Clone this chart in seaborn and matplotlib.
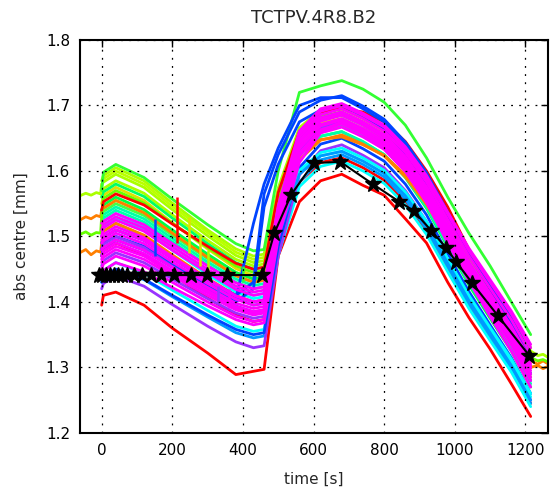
import numpy as np
import pandas as pd
import matplotlib
matplotlib.use("Agg")
import matplotlib.pyplot as plt
import seaborn as sns

# ---------------- data ----------------
K = [0, 5, 40, 120, 200, 300, 380, 430, 460, 500, 560, 620, 680, 740,
     800, 860, 920, 980, 1040, 1100, 1160, 1215]
pre_t = [-62, -45, -30, -15, -3]
tail_t = [1235, 1250, 1265]

red_bottom = [1.395, 1.41, 1.415, 1.395, 1.360, 1.322, 1.289, 1.294, 1.297, 1.47, 1.553, 1.585,
              1.595, 1.578, 1.563, 1.527, 1.490, 1.430, 1.376, 1.328, 1.275, 1.225]
red_mid = [1.47, 1.478, 1.49, 1.472, 1.442, 1.406, 1.380, 1.370, 1.373, 1.483, 1.583, 1.613,
           1.620, 1.605, 1.586, 1.553, 1.508, 1.451, 1.395, 1.346, 1.298, 1.245]
red_high = [1.54, 1.553, 1.565, 1.548, 1.519, 1.485, 1.459, 1.450, 1.453, 1.567, 1.66, 1.69,
            1.695, 1.69, 1.675, 1.645, 1.60, 1.545, 1.48, 1.42, 1.36, 1.30]
orange_a = [1.475, 1.48, 1.472, 1.478, 1.476,
            1.49, 1.508, 1.52, 1.502, 1.472, 1.436, 1.410, 1.400, 1.403, 1.515, 1.617, 1.647,
            1.655, 1.641, 1.623, 1.591, 1.549, 1.495, 1.442, 1.396, 1.350, 1.300,
            1.303, 1.298, 1.302]
orange_b = [1.525, 1.53, 1.527, 1.532, 1.53,
            1.54, 1.543, 1.555, 1.536, 1.505, 1.468, 1.440, 1.430, 1.433, 1.534, 1.626, 1.648,
            1.652, 1.640, 1.624, 1.594, 1.553, 1.503, 1.45, 1.405, 1.359, 1.31,
            1.305, 1.31, 1.305]
lime_a = [1.562, 1.566, 1.563, 1.567, 1.565,
          1.58, 1.583, 1.595, 1.575, 1.541, 1.501, 1.471, 1.46, 1.463, 1.568, 1.664, 1.693,
          1.70, 1.685, 1.666, 1.633, 1.588, 1.531, 1.475, 1.426, 1.378, 1.325,
          1.318, 1.32, 1.315]
green_long = [1.503, 1.507, 1.502, 1.506, 1.505,
              1.53, 1.558, 1.57, 1.551, 1.52, 1.483, 1.455, 1.445, 1.448, 1.555, 1.653, 1.683,
              1.69, 1.675, 1.656, 1.623, 1.578, 1.521, 1.465, 1.416, 1.368, 1.315,
              1.31, 1.312, 1.308]
yellow = [1.55, 1.563, 1.575, 1.555, 1.521, 1.481, 1.451, 1.44, 1.443, 1.548, 1.644, 1.673,
          1.68, 1.665, 1.646, 1.612, 1.566, 1.509, 1.452, 1.403, 1.353, 1.30]
yellow_b = [1.54, 1.543, 1.555, 1.537, 1.507, 1.471, 1.445, 1.435, 1.438, 1.541, 1.635, 1.663,
            1.67, 1.655, 1.635, 1.601, 1.555, 1.497, 1.439, 1.389, 1.339, 1.285]
lime_b = [1.56, 1.573, 1.585, 1.566, 1.533, 1.494, 1.465, 1.455, 1.458, 1.561, 1.655, 1.683,
          1.69, 1.675, 1.656, 1.622, 1.576, 1.519, 1.462, 1.413, 1.363, 1.31]
lime_c = [1.575, 1.588, 1.60, 1.58, 1.546, 1.506, 1.476, 1.465, 1.468, 1.569, 1.661, 1.688,
          1.695, 1.68, 1.661, 1.628, 1.583, 1.526, 1.47, 1.421, 1.373, 1.32]
lime_d = [1.585, 1.593, 1.605, 1.585, 1.551, 1.51, 1.481, 1.47, 1.473, 1.574, 1.666, 1.693,
          1.70, 1.685, 1.667, 1.633, 1.589, 1.534, 1.478, 1.43, 1.382, 1.33]
green_b = [1.54, 1.548, 1.56, 1.541, 1.51, 1.473, 1.445, 1.435, 1.438, 1.536, 1.626, 1.653,
           1.66, 1.644, 1.625, 1.590, 1.543, 1.484, 1.426, 1.375, 1.325, 1.27]
green_c = [1.56, 1.568, 1.58, 1.561, 1.528, 1.489, 1.46, 1.45, 1.453, 1.556, 1.65, 1.678,
           1.685, 1.67, 1.65, 1.616, 1.57, 1.512, 1.454, 1.404, 1.354, 1.30]
green_d = [1.53, 1.538, 1.55, 1.532, 1.502, 1.466, 1.44, 1.43, 1.433, 1.54, 1.638, 1.668,
           1.675, 1.66, 1.64, 1.606, 1.56, 1.502, 1.444, 1.394, 1.344, 1.29]
spring = [1.52, 1.533, 1.545, 1.527, 1.497, 1.461, 1.435, 1.425, 1.428, 1.535, 1.633, 1.663,
          1.67, 1.654, 1.635, 1.60, 1.553, 1.494, 1.436, 1.385, 1.335, 1.28]
spring_b = [1.515, 1.528, 1.54, 1.522, 1.492, 1.456, 1.43, 1.42, 1.423, 1.528, 1.624, 1.653,
            1.66, 1.645, 1.625, 1.591, 1.545, 1.487, 1.429, 1.379, 1.329, 1.275]
cyan_a = [1.51, 1.523, 1.535, 1.516, 1.485, 1.448, 1.42, 1.41, 1.413, 1.511, 1.601, 1.628,
          1.635, 1.62, 1.601, 1.568, 1.523, 1.466, 1.41, 1.361, 1.313, 1.26]
cyan_b = [1.44, 1.448, 1.46, 1.444, 1.418, 1.387, 1.363, 1.355, 1.358, 1.472, 1.576, 1.607,
          1.615, 1.60, 1.581, 1.548, 1.503, 1.446, 1.39, 1.341, 1.293, 1.24]
cyan_c = [1.505, 1.516, 1.528, 1.51, 1.479, 1.442, 1.415, 1.405, 1.408, 1.506, 1.596, 1.623,
          1.63, 1.615, 1.596, 1.563, 1.518, 1.461, 1.405, 1.356, 1.308, 1.255]
azure_a = [1.50, 1.508, 1.52, 1.501, 1.47, 1.433, 1.405, 1.395, 1.398, 1.501, 1.595, 1.623,
           1.63, 1.615, 1.596, 1.562, 1.516, 1.459, 1.402, 1.353, 1.303, 1.25]
azure_b = [1.43, 1.438, 1.45, 1.434, 1.408, 1.377, 1.353, 1.345, 1.348, 1.471, 1.583, 1.617,
           1.625, 1.61, 1.591, 1.557, 1.511, 1.454, 1.397, 1.348, 1.298, 1.245]
blue_a = [1.49, 1.498, 1.51, 1.494, 1.466, 1.433, 1.41, 1.43, 1.565, 1.625, 1.69, 1.708,
          1.715, 1.699, 1.679, 1.644, 1.597, 1.537, 1.478, 1.427, 1.375, 1.32]
blue_b = [1.47, 1.483, 1.495, 1.479, 1.453, 1.422, 1.40, 1.42, 1.545, 1.61, 1.675, 1.693,
          1.70, 1.684, 1.663, 1.626, 1.577, 1.516, 1.454, 1.401, 1.347, 1.29]
blue_c = [1.43, 1.438, 1.45, 1.435, 1.41, 1.38, 1.358, 1.35, 1.353, 1.485, 1.605, 1.641,
          1.65, 1.634, 1.615, 1.58, 1.533, 1.474, 1.416, 1.365, 1.315, 1.26]
blue_d = [1.48, 1.49, 1.50, 1.485, 1.458, 1.426, 1.405, 1.52, 1.58, 1.635, 1.70, 1.712,
          1.712, 1.695, 1.675, 1.64, 1.592, 1.532, 1.472, 1.42, 1.368, 1.31]
purple_a = [1.42, 1.428, 1.44, 1.424, 1.396, 1.363, 1.339, 1.33, 1.333, 1.47, 1.594, 1.631,
            1.64, 1.624, 1.605, 1.57, 1.523, 1.464, 1.406, 1.355, 1.305, 1.25]
purple_b = [1.48, 1.488, 1.50, 1.483, 1.454, 1.42, 1.394, 1.385, 1.388, 1.525, 1.644, 1.681,
            1.69, 1.674, 1.653, 1.616, 1.567, 1.506, 1.444, 1.391, 1.337, 1.28]
purple_c = [1.455, 1.463, 1.475, 1.46, 1.435, 1.405, 1.383, 1.375, 1.378, 1.51, 1.63, 1.666,
            1.675, 1.66, 1.64, 1.606, 1.56, 1.502, 1.444, 1.394, 1.344, 1.29]
top_green = [1.57, 1.598, 1.61, 1.59, 1.557, 1.518, 1.489, 1.478, 1.48, 1.60, 1.72, 1.73,
             1.738, 1.725, 1.705, 1.67, 1.62, 1.56, 1.505, 1.455, 1.40, 1.35]
mag_1 = [1.51, 1.518, 1.53, 1.513, 1.484, 1.45, 1.424, 1.415, 1.418, 1.543, 1.657, 1.691,
         1.70, 1.685, 1.667, 1.633, 1.589, 1.534, 1.478, 1.43, 1.382, 1.33]
mag_2 = [1.50, 1.513, 1.525, 1.508, 1.479, 1.445, 1.419, 1.41, 1.413, 1.538, 1.652, 1.686,
         1.695, 1.68, 1.661, 1.628, 1.583, 1.526, 1.47, 1.421, 1.373, 1.32]
mag_3 = [1.50, 1.503, 1.515, 1.498, 1.469, 1.435, 1.409, 1.40, 1.403, 1.531, 1.647, 1.681,
         1.69, 1.675, 1.656, 1.622, 1.576, 1.519, 1.462, 1.413, 1.363, 1.31]
mag_4 = [1.49, 1.493, 1.505, 1.489, 1.461, 1.428, 1.404, 1.395, 1.398, 1.526, 1.642, 1.676,
         1.685, 1.67, 1.65, 1.616, 1.57, 1.512, 1.454, 1.404, 1.354, 1.30]
mag_5 = [1.48, 1.483, 1.495, 1.479, 1.453, 1.422, 1.398, 1.39, 1.393, 1.521, 1.637, 1.671,
         1.68, 1.665, 1.646, 1.612, 1.566, 1.509, 1.452, 1.403, 1.353, 1.30]
mag_6 = [1.47, 1.478, 1.49, 1.474, 1.448, 1.417, 1.393, 1.385, 1.388, 1.513, 1.627, 1.661,
         1.675, 1.66, 1.64, 1.605, 1.558, 1.50, 1.442, 1.393, 1.343, 1.29]
mag_7 = [1.46, 1.468, 1.48, 1.465, 1.44, 1.41, 1.388, 1.38, 1.383, 1.508, 1.622, 1.66,
         1.672, 1.657, 1.637, 1.60, 1.552, 1.492, 1.434, 1.384, 1.334, 1.28]
mag_8 = [1.45, 1.458, 1.47, 1.455, 1.43, 1.40, 1.378, 1.37, 1.373, 1.505, 1.627, 1.663,
         1.672, 1.657, 1.637, 1.603, 1.557, 1.499, 1.441, 1.391, 1.341, 1.285]
mag_9 = [1.44, 1.448, 1.46, 1.446, 1.422, 1.394, 1.373, 1.365, 1.368, 1.497, 1.613, 1.658,
         1.667, 1.652, 1.633, 1.599, 1.553, 1.49, 1.432, 1.378, 1.325, 1.27]
mag_10 = [1.495, 1.498, 1.51, 1.494, 1.466, 1.433, 1.409, 1.40, 1.403, 1.53, 1.645, 1.679,
          1.688, 1.673, 1.654, 1.619, 1.573, 1.516, 1.458, 1.408, 1.359, 1.305]
mag_11 = [1.465, 1.473, 1.485, 1.47, 1.444, 1.414, 1.391, 1.383, 1.386, 1.516, 1.634, 1.669,
          1.678, 1.663, 1.644, 1.609, 1.563, 1.505, 1.448, 1.398, 1.348, 1.295]
mag_12 = [1.52, 1.523, 1.535, 1.518, 1.489, 1.455, 1.429, 1.42, 1.423, 1.547, 1.661, 1.695,
          1.703, 1.688, 1.67, 1.637, 1.593, 1.537, 1.482, 1.434, 1.386, 1.335]

# reference (black, stars)
ref_t = [-8, 0, 12, 24, 35, 46, 58, 73, 91, 115, 139, 167, 205, 252, 299, 356, 455,
         489, 537, 600, 676, 768, 843, 884, 933, 975, 1004, 1049, 1122, 1211]
ref_v = [1.441] * 17 + [1.505, 1.564, 1.612, 1.614, 1.580, 1.553, 1.539, 1.509,
                        1.483, 1.461, 1.429, 1.379, 1.318]

# short spikes seen in the left part
spike_t = [150, 214, 247, 278, 300, 330, 360, 400]
spike_lo = [1.47, 1.49, 1.475, 1.455, 1.44, 1.40, 1.39, 1.43]
spike_hi = [1.527, 1.56, 1.53, 1.50, 1.48, 1.425, 1.42, 1.455]

RED, ORANGE, YELLOW, LIME = "#ff0000", "#ff7f00", "#e0e000", "#aaff00"
GREEN, GREEN2, SPRING, CYAN = "#33ff33", "#00ff44", "#00ffaa", "#00ffff"
AZURE, BLUE, PURPLE, MAGENTA = "#0099ff", "#0044ff", "#9933ff", "#ff00ff"

spike_c = [BLUE, RED, YELLOW, YELLOW, LIME, PURPLE, MAGENTA, GREEN]

# plotting order (later on top): (name, values, colour, long?)
series = [
    ("red_bottom", red_bottom, RED, False),
    ("red_mid", red_mid, RED, False),
    ("azure_b", azure_b, AZURE, False),
    ("cyan_b", cyan_b, CYAN, False),
    ("purple_a", purple_a, PURPLE, False),
    ("blue_c", blue_c, BLUE, False),
    ("yellow", yellow, YELLOW, False),
    ("yellow_b", yellow_b, YELLOW, False),
    ("lime_b", lime_b, LIME, False),
    ("green_b", green_b, GREEN2, False),
    ("green_d", green_d, "#44ff44", False),
    ("spring", spring, SPRING, False),
    ("spring_b", spring_b, SPRING, False),
    ("cyan_a", cyan_a, CYAN, False),
    ("cyan_c", cyan_c, CYAN, False),
    ("azure_a", azure_a, AZURE, False),
    ("orange_a", orange_a, ORANGE, True),
    ("orange_b", orange_b, ORANGE, True),
    ("green_c", green_c, "#00ff66", False),
    ("green_long", green_long, "#66ff00", True),
    ("lime_a", lime_a, LIME, True),
    ("lime_c", lime_c, "#bbff00", False),
    ("lime_d", lime_d, LIME, False),
    ("red_high", red_high, RED, False),
    ("top_green", top_green, GREEN, False),
    ("blue_a", blue_a, BLUE, False),
    ("blue_b", blue_b, BLUE, False),
    ("blue_d", blue_d, BLUE, False),
    ("purple_b", purple_b, PURPLE, False),
    ("purple_c", purple_c, PURPLE, False),
    ("mag_9", mag_9, MAGENTA, False),
    ("mag_8", mag_8, MAGENTA, False),
    ("mag_11", mag_11, MAGENTA, False),
    ("mag_7", mag_7, MAGENTA, False),
    ("mag_6", mag_6, MAGENTA, False),
    ("mag_5", mag_5, MAGENTA, False),
    ("mag_4", mag_4, MAGENTA, False),
    ("mag_10", mag_10, MAGENTA, False),
    ("mag_3", mag_3, MAGENTA, False),
    ("mag_2", mag_2, MAGENTA, False),
    ("mag_1", mag_1, MAGENTA, False),
    ("mag_12", mag_12, MAGENTA, False),
]

rows = []
for name, vals, col, is_long in series:
    times = (pre_t + K + tail_t) if is_long else K
    for t, v in zip(times, vals):
        rows.append((name, t, v))
df = pd.DataFrame(rows, columns=["line", "time", "value"])
palette = {name: col for name, _, col, _ in series}
order = [name for name, _, _, _ in series]

# ---------------- figure ----------------
sns.set_style("white")
plt.rcParams["font.family"] = ["DejaVu Sans"]

fig = plt.figure(figsize=(5.5, 4.88), dpi=100)
ax = fig.add_axes([0.145, 0.113, 0.852, 0.805])

sns.lineplot(data=df, x="time", y="value", hue="line", hue_order=order,
             palette=palette, estimator=None, sort=False, legend=False,
             linewidth=2.0, ax=ax)
ax.vlines(spike_t, spike_lo, spike_hi, colors=spike_c, linewidth=1.8, zorder=2)

ax.plot(ref_t, ref_v, color="black", linewidth=1.5, marker="*",
        markersize=12, markeredgecolor="black", zorder=5)

ax.set_xlim(-62, 1265)
ax.set_ylim(1.2, 1.8)
ax.set_xticks([0, 200, 400, 600, 800, 1000, 1200])
ax.set_yticks([1.2, 1.3, 1.4, 1.5, 1.6, 1.7, 1.8])
ax.set_yticklabels(["1.2", "1.3", "1.4", "1.5", "1.6", "1.7", "1.8"])
ax.grid(True, color="black", linestyle=(0, (1.5, 5)), linewidth=0.9)
ax.set_axisbelow(False)
for sp in ax.spines.values():
    sp.set_visible(True)
    sp.set_color("black")
    sp.set_linewidth(1.5)
ax.tick_params(direction="in", length=5, width=1, top=True, right=True,
               labelsize=11, colors="black", pad=7)
ax.set_xlabel("time [s]", fontsize=11, labelpad=10)
ax.set_ylabel("abs centre [mm]", fontsize=11, labelpad=12)
ax.set_title("TCTPV.4R8.B2", fontsize=13, pad=12)

fig.savefig("out.png", dpi=100)
